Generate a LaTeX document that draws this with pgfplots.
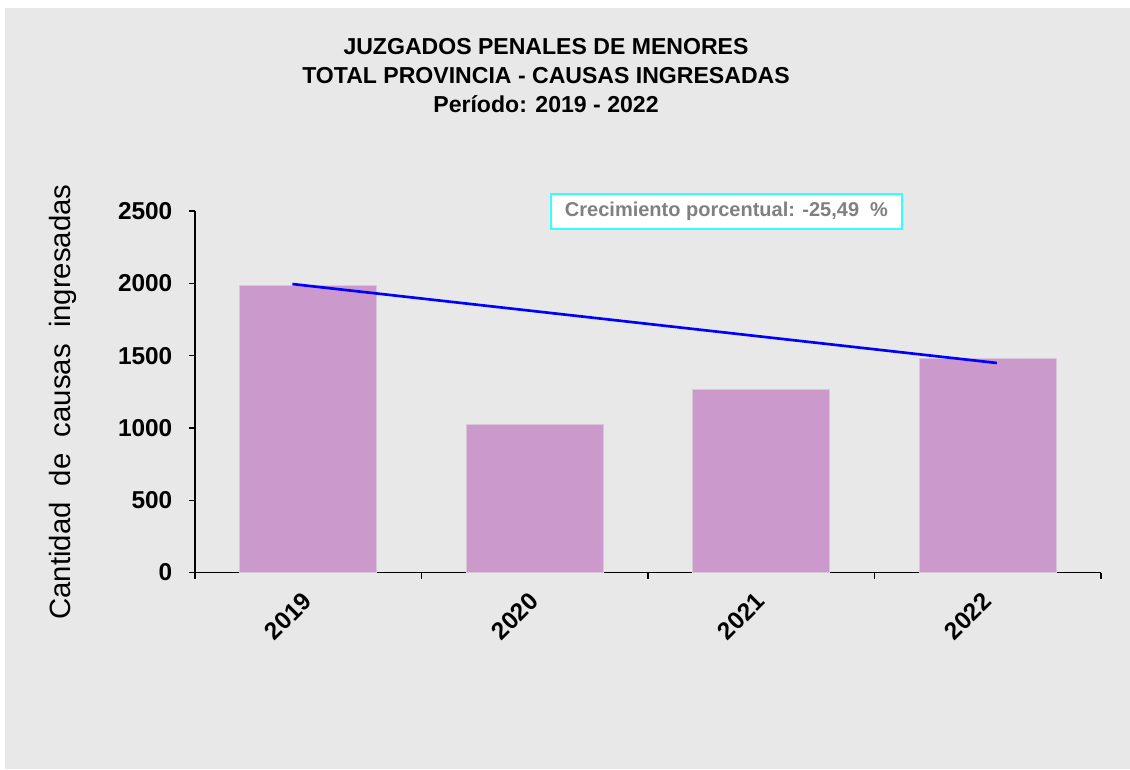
\documentclass[border=0pt]{standalone}
\usepackage{pgfplots}
\pgfplotsset{compat=1.18}
\usepackage{fontspec}
\setmainfont{Liberation Sans}
\definecolor{bgc}{RGB}{232,232,232}
\definecolor{barc}{RGB}{204,153,204}
\definecolor{boxc}{RGB}{51,255,255}
\definecolor{txtg}{RGB}{128,128,128}
\begin{document}
\begin{tikzpicture}
\useasboundingbox (0pt,0pt) rectangle (847.5pt,-576.75pt);
\fill[white] (0pt,0pt) rectangle (847.5pt,-576.75pt);
\fill[bgc] (3.75pt,-6pt) rectangle (847.5pt,-576.75pt);
\node[align=center,font=\bfseries\fontsize{17.3}{21.75}\selectfont] at (409.5pt,-57pt)
  {JUZGADOS PENALES DE MENORES\\TOTAL PROVINCIA - CAUSAS INGRESADAS\\Período: 2019 - 2022};
\node[rotate=90,font=\fontsize{22}{26}\selectfont] at (47.25pt,-301.5pt) {Cantidad\ \ de\ \ causas\ \ ingresadas};
\begin{axis}[
  at={(146.25pt,-429.375pt)}, anchor=south west,
  scale only axis, width=679.5pt, height=271.125pt,
  xmin=-0.5, xmax=3.5, ymin=0, ymax=2500,
  axis x line=bottom, axis y line=left,
  axis line style={-, line width=1pt, black},
  tick align=outside, major tick length=4.5pt,
  tick style={line width=1pt, black},
  xtick={-0.5,0.5,1.5,2.5,3.5}, xticklabels={},
  extra x ticks={0,1,2,3},
  extra x tick labels={2019,2020,2021,2022},
  extra x tick style={major tick length=0pt, xticklabel style={rotate=45, anchor=east, xshift=-10pt, yshift=-12.6pt, font=\bfseries\fontsize{18.3}{21}\selectfont}},
  ytick={0,500,1000,1500,2000,2500},
  yticklabels={0,500,1000,1500,2000,2500},
  yticklabel style={font=\bfseries\fontsize{18.3}{21}\selectfont, xshift=-9pt},
  clip=false,
]
\addplot[ybar, bar width=102.75pt, fill=barc, draw={rgb,255:red,215;green,200;blue,215}, line width=0.6pt]
  coordinates {(0,1985) (1,1026) (2,1266) (3,1479)};
\addplot[blue, line width=2pt, no marks] coordinates {(-0.07,1995) (3.04,1449)};
\end{axis}
\node[draw=boxc, line width=1.2pt, fill=white, minimum width=263.25pt, minimum height=26.25pt,
  inner sep=0pt, font=\bfseries\fontsize{15}{18}\selectfont, text=txtg] at (544.875pt,-158.625pt)
  {Crecimiento porcentual: -25,49\ \ \%};
\end{tikzpicture}
\end{document}
